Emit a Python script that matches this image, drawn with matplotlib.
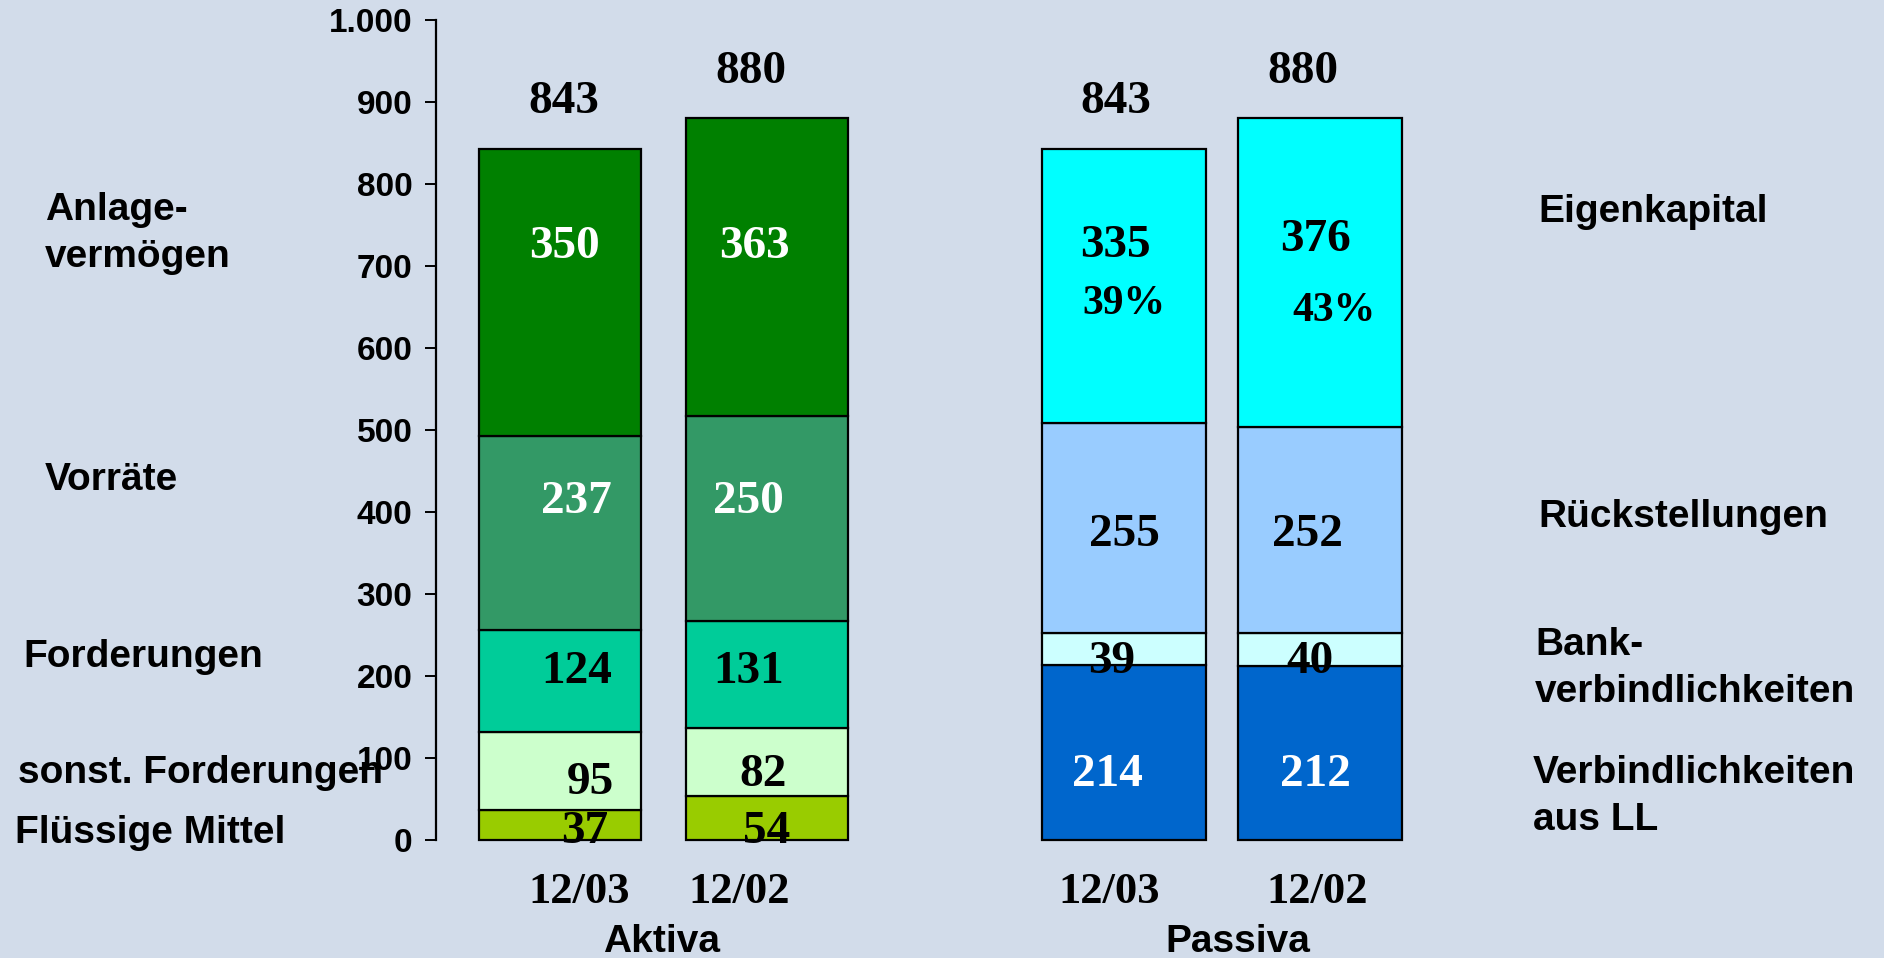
import matplotlib
matplotlib.use("Agg")
import matplotlib.pyplot as plt

# ---------------- data ----------------
aktiva_cats = ["Flüssige Mittel", "sonst. Forderungen", "Forderungen", "Vorräte", "Anlagevermögen"]
aktiva_1203 = [37, 95, 124, 237, 350]
aktiva_1202 = [54, 82, 131, 250, 363]
aktiva_colors = ["#99CC00", "#CCFFCC", "#00CC99", "#339966", "#008000"]
aktiva_text = ["black", "black", "black", "white", "white"]

passiva_cats = ["Verbindlichkeiten aus LL", "Bankverbindlichkeiten", "Rückstellungen", "Eigenkapital"]
passiva_1203 = [214, 39, 255, 335]
passiva_1202 = [212, 40, 252, 376]
passiva_colors = ["#0066CC", "#CCFFFF", "#99CCFF", "#00FFFF"]
passiva_text = ["white", "black", "black", "black"]

ek_quote = ["39%", "43%"]
periods = ["12/03", "12/02"]
totals = [843, 880]
yticks = [0, 100, 200, 300, 400, 500, 600, 700, 800, 900, 1000]
ytick_labels = ["0", "100", "200", "300", "400", "500", "600", "700", "800", "900", "1.000"]

# ---------------- layout (positions / styles) ----------------
W, H = 1884, 958
BG = "#D2DCEA"
SANS = "Liberation Sans"
SERIF = "Liberation Serif"

fig = plt.figure(figsize=(W / 100, H / 100), dpi=100, facecolor=BG)
ax = fig.add_axes([436 / W, 0, 1 - 436 / W, 1])
ax.set_facecolor(BG)
ax.patch.set_alpha(0)
ax.set_xlim(-0.599, 6.396)
ax.set_ylim(-143.9, 1024.4)

xa = [0, 1]            # aktiva bar slots
xp = [2.725, 3.671]    # passiva bar slots
wa, wp = 0.78, 0.79

def stack(x, vals, colors, width):
    bottom = 0
    for v, c in zip(vals, colors):
        ax.bar(x, v, bottom=bottom, width=width, color=c, edgecolor="black",
               linewidth=1.6, zorder=2)
        bottom += v

stack(xa[0], aktiva_1203, aktiva_colors, wa)
stack(xa[1], aktiva_1202, aktiva_colors, wa)
stack(xp[0], passiva_1203, passiva_colors, wp)
stack(xp[1], passiva_1202, passiva_colors, wp)

# axis styling
for s in ["top", "right", "bottom"]:
    ax.spines[s].set_visible(False)
ax.spines["left"].set_bounds(0, 1000)
ax.spines["left"].set_linewidth(1.6)
ax.set_xticks([])
ax.set_yticks(yticks)
ax.set_yticklabels(ytick_labels, fontfamily=SANS, fontweight="bold", fontsize=24)
ax.tick_params(axis="y", direction="out", length=8, width=1.4, pad=9)

num_kw = dict(fontfamily=SERIF, fontweight="bold", fontsize=34, ha="center",
              va="center", zorder=5)

DY = -5  # small downward shift of the serif labels

# in-bar label positions (value units) and x offsets (slot units)
a_lab_y = [[15, 74, 210, 417, 728], [15, 84, 210, 417, 728]]
a_lab_dx = [[0.12, 0.145, 0.08, 0.08, 0.02], [0.0, -0.02, -0.09, -0.09, -0.06]]
p_lab_y = [[84, 222, 377, 729], [84, 222, 377, 737]]
p_lab_dx = [[-0.08, -0.06, 0.0, -0.04], [-0.02, -0.05, -0.06, -0.02]]
quote_y = [659, 650]
quote_dx = [0.0, 0.07]
tot_dx_a = [0.02, -0.08]
tot_dx_p = [-0.04, -0.08]

for i, vals in enumerate([aktiva_1203, aktiva_1202]):
    for j, v in enumerate(vals):
        ax.text(xa[i] + a_lab_dx[i][j], a_lab_y[i][j] + DY, str(v),
                color=aktiva_text[j], **num_kw)
    ax.text(xa[i] + tot_dx_a[i], totals[i] + 62 + DY, str(totals[i]), color="black", **num_kw)

for i, vals in enumerate([passiva_1203, passiva_1202]):
    for j, v in enumerate(vals):
        ax.text(xp[i] + p_lab_dx[i][j], p_lab_y[i][j] + DY, str(v),
                color=passiva_text[j], **num_kw)
    ax.text(xp[i] + quote_dx[i], quote_y[i] + DY, ek_quote[i], color="black",
            **{**num_kw, "fontsize": 30})
    ax.text(xp[i] + tot_dx_p[i], totals[i] + 62 + DY, str(totals[i]), color="black", **num_kw)

# category labels
cat_kw = dict(fontfamily=SERIF, fontweight="bold", fontsize=32, ha="center", va="center")
for x, dx, lab in zip(xa, [0.09, -0.135], periods):
    ax.text(x + dx, -64, lab, **cat_kw)
for x, dx, lab in zip(xp, [-0.07, -0.015], periods):
    ax.text(x + dx, -64, lab, **cat_kw)
grp_kw = dict(fontfamily=SANS, fontweight="bold", fontsize=28, ha="center", va="center")
ax.text(0.49, -124, "Aktiva", **grp_kw)
ax.text(3.275, -124, "Passiva", **grp_kw)

# side labels (pixel positions -> figure fraction)
def ftext(x, y, s):
    fig.text(x / W, 1 - y / H, s, fontfamily=SANS, fontweight="bold", fontsize=28,
             ha="left", va="baseline", zorder=6)

left_labels = [("Anlage-", 45, 220), ("vermögen", 45, 267), ("Vorräte", 45, 490),
               ("Forderungen", 23, 667), ("sonst. Forderungen", 18, 783),
               ("Flüssige Mittel", 15, 843)]
right_labels = [("Eigenkapital", 1538, 222), ("Rückstellungen", 1538, 527),
                ("Bank-", 1535, 655), ("verbindlichkeiten", 1535, 702),
                ("Verbindlichkeiten", 1533, 783), ("aus LL", 1533, 830)]
for s, x, y in left_labels + right_labels:
    ftext(x, y, s)

fig.savefig("out.png", dpi=100, facecolor=BG)
